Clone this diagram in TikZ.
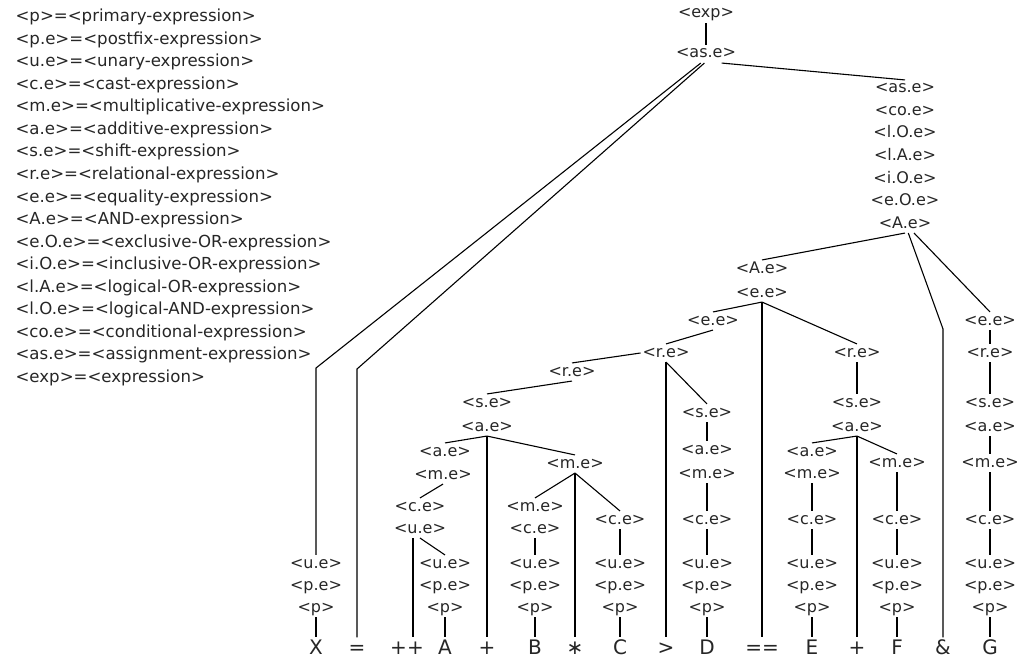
\documentclass[tikz,border=0pt]{standalone}
\usepackage{fontspec}
\setmainfont{DejaVu Sans}
\begin{document}
\begin{tikzpicture}[x=1pt,y=-1pt,line width=1.1pt,
        nt/.style={inner sep=1.5pt,text height=11pt,text depth=3pt,font=\fontsize{16}{19}\selectfont,text=black!85},
        leaf/.style={inner sep=2pt,text height=14pt,text depth=0pt,font=\fontsize{20}{23}\selectfont,text=black!85},
        legend/.style={anchor=west,inner sep=0pt,font=\fontsize{16.6}{19}\selectfont,text=black!85}]
    \useasboundingbox (0,0) rectangle (1028,666);
    \foreach \txt [count=\i] in {<p>=<primary-expression>,<p.e>=<postfix-expression>,<u.e>=<unary-expression>,
            <c.e>=<cast-expression>,<m.e>=<multiplicative-expression>,<a.e>=<additive-expression>,
            <s.e>=<shift-expression>,<r.e>=<relational-expression>,<e.e>=<equality-expression>,
            <A.e>=<AND-expression>,<e.O.e>=<exclusive-OR-expression>,<i.O.e>=<inclusive-OR-expression>,
            <l.A.e>=<logical-OR-expression>,<l.O.e>=<logical-AND-expression>,<co.e>=<conditional-expression>,
            <as.e>=<assignment-expression>,<exp>=<expression>}
        \node[legend] (leg\i) at (15,{17+(\i-1)*22.56}) {\txt};
    \node[nt] (exp) at (706,14) {<exp>};
    \node[nt] (asT) at (706,54) {<as.e>};
    \node[nt] (asR) at (905,89) {<as.e>};
    \node[nt] (coR) at (905,111.5) {<co.e>};
    \node[nt] (lOR) at (905,134) {<l.O.e>};
    \node[nt] (lAR) at (905,156.5) {<l.A.e>};
    \node[nt] (iOR) at (905,179) {<i.O.e>};
    \node[nt] (eOR) at (905,201.5) {<e.O.e>};
    \node[nt] (AR) at (905,224) {<A.e>};
    \node[nt] (AL) at (762,269) {<A.e>};
    \node[nt] (eeL) at (762,293) {<e.e>};
    \node[nt] (ee2) at (713,321) {<e.e>};
    \node[nt] (r1) at (666,353) {<r.e>};
    \node[nt] (rR) at (857,353) {<r.e>};
    \node[nt] (eeG) at (990,321) {<e.e>};
    \node[nt] (rG) at (990,353) {<r.e>};
    \node[nt] (seG) at (990,403) {<s.e>};
    \node[nt] (aeG) at (990,427) {<a.e>};
    \node[nt] (meG) at (990,463) {<m.e>};
    \node[nt] (ceG) at (990,520) {<c.e>};
    \node[nt] (seR) at (857,403) {<s.e>};
    \node[nt] (aeR) at (857,427) {<a.e>};
    \node[nt] (aeE) at (812,452) {<a.e>};
    \node[nt] (meE) at (812,474) {<m.e>};
    \node[nt] (ceE) at (812,520) {<c.e>};
    \node[nt] (meF) at (897,463) {<m.e>};
    \node[nt] (ceF) at (897,520) {<c.e>};
    \node[nt] (seD) at (707,413) {<s.e>};
    \node[nt] (aeD) at (707,450) {<a.e>};
    \node[nt] (meD) at (707,474) {<m.e>};
    \node[nt] (ceD) at (707,520) {<c.e>};
    \node[nt] (r2) at (572,372) {<r.e>};
    \node[nt] (seL) at (487,403) {<s.e>};
    \node[nt] (aeL) at (487,427) {<a.e>};
    \node[nt] (aeA) at (445,452) {<a.e>};
    \node[nt] (meA) at (443,475) {<m.e>};
    \node[nt] (ceA) at (420,507) {<c.e>};
    \node[nt] (ueAt) at (420,529) {<u.e>};
    \node[nt] (meM) at (575,464) {<m.e>};
    \node[nt] (meB) at (535,507) {<m.e>};
    \node[nt] (ceB) at (535,529) {<c.e>};
    \node[nt] (ceC) at (620,520) {<c.e>};
    \foreach \c/\x in {X/316,A/445,B/535,C/620,D/707,E/812,F/897,G/990} {
        \node[nt] (ue\c) at (\x,564) {<u.e>};
        \node[nt] (pe\c) at (\x,586) {<p.e>};
        \node[nt] (p\c) at (\x,608) {<p>};
        \node[leaf] (\c) at (\x,647) {\c};
        \draw (p\c) -- (\c);
    }
    \node[leaf] (asg) at (357,647) {=};
    \node[leaf] (inc) at (407,647) {++};
    \node[leaf] (plusA) at (487,647) {+};
    \node[leaf] (mul) at (575,647) {∗};
    \node[leaf] (gt) at (666,647) {>};
    \node[leaf] (eqeq) at (762,647) {==};
    \node[leaf] (plusE) at (857,647) {+};
    \node[leaf] (amp) at (943,647) {\&};
    \coordinate (bX) at (316,368);
    \coordinate (bAsg) at (357,369);
    \coordinate (bAmp) at (943,329);
    \draw (exp) -- (asT);
    \draw (asT.-30) -- (asR.north);
    \draw (asT.-120) -- (bX) -- (ueX);
    \draw (asT.-100) -- (bAsg) -- (asg);
    \draw (AR.south) -- (AL.north);
    \draw (AR.-70) -- (bAmp) -- (amp);
    \draw (AR.-45) -- (eeG.north);
    \draw (eeL.south) -- (ee2.north);
    \draw (eeL) -- (eqeq);
    \draw (eeL.south) -- (rR.north);
    \draw (ee2.south) -- (r1.north);
    \draw (r1.west) -- (r2.north);
    \draw (r1) -- (gt);
    \draw (r1.south) -- (seD.north);
    \draw (seD) -- (aeD);
    \draw (meD) -- (ceD);
    \draw (ceD) -- (ueD);
    \draw (rR) -- (seR);
    \draw (aeR.south) -- (aeE.north);
    \draw (aeR) -- (plusE);
    \draw (aeR.south) -- (meF.north);
    \draw (meE) -- (ceE);
    \draw (ceE) -- (ueE);
    \draw (meF) -- (ceF);
    \draw (ceF) -- (ueF);
    \draw (eeG) -- (rG);
    \draw (rG) -- (seG);
    \draw (aeG) -- (meG);
    \draw (meG) -- (ceG);
    \draw (ceG) -- (ueG);
    \draw (r2.south) -- (seL.north);
    \draw (aeL.south) -- (aeA.north);
    \draw (aeL) -- (plusA);
    \draw (aeL.south) -- (meM.north);
    \draw (meA.south) -- (ceA.north);
    \draw ([xshift=-7pt]ueAt.south) -- ([xshift=6pt]inc.north);
    \draw (ueAt.south) -- (ueA.north);
    \draw (meM.south) -- (meB.north);
    \draw (meM) -- (mul);
    \draw (meM.south) -- (ceC.north);
    \draw (ceB) -- (ueB);
    \draw (ceC) -- (ueC);
\end{tikzpicture}
\end{document}
